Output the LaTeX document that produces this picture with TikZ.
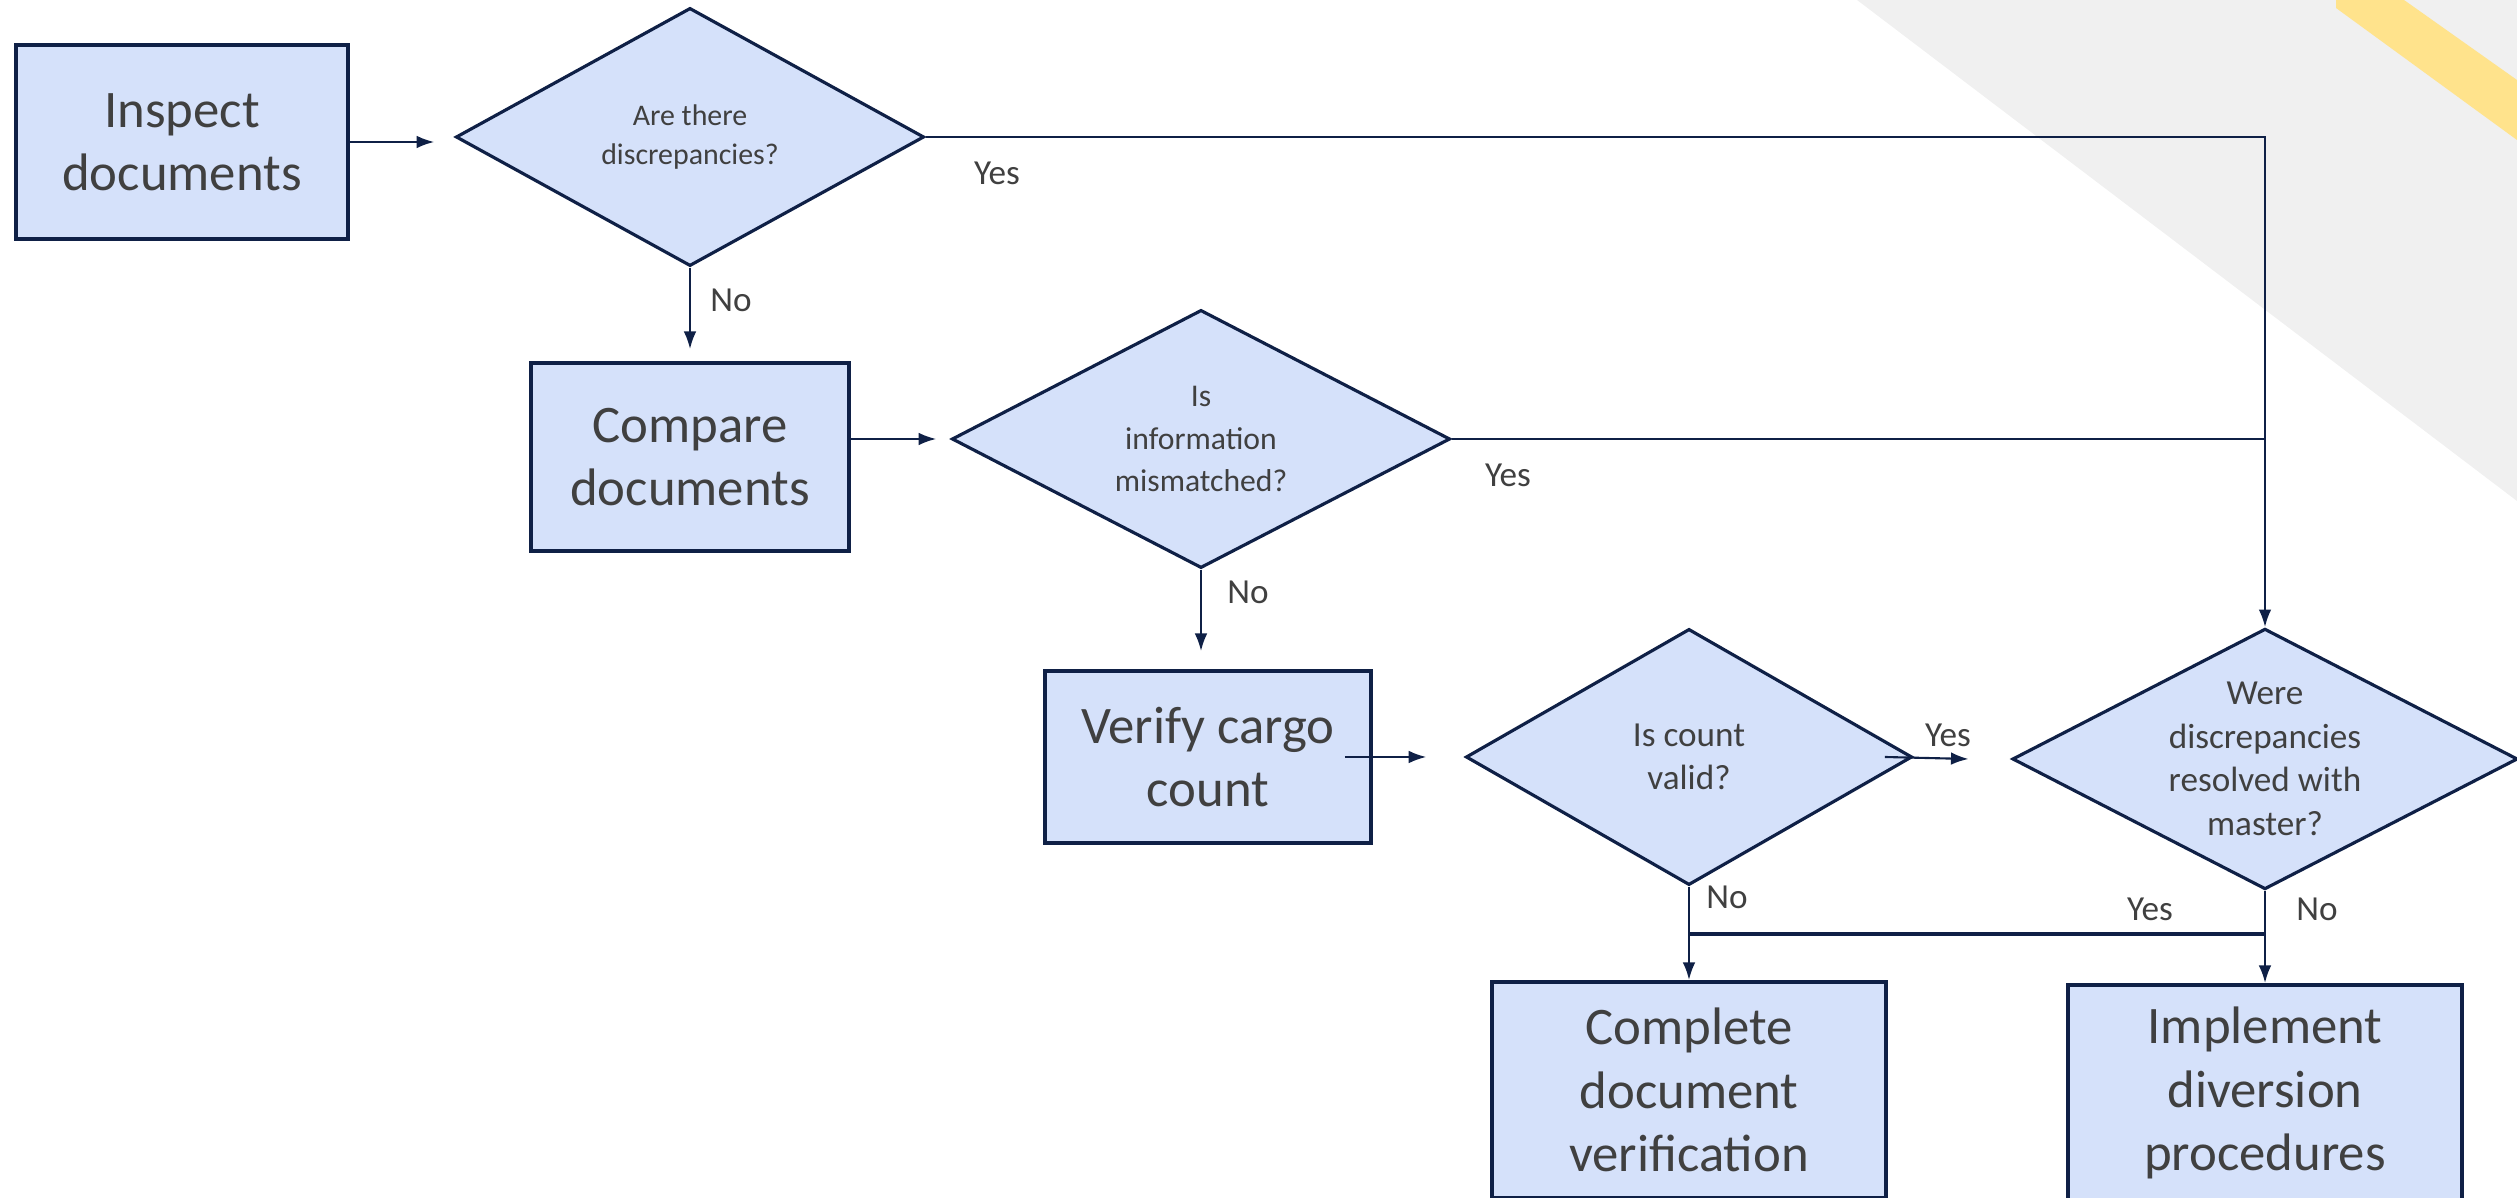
\documentclass[tikz,border=0pt]{standalone}
\usepackage{fontspec}
\setmainfont{Carlito}
\usetikzlibrary{arrows.meta,shapes.geometric,positioning}

\definecolor{navy}{RGB}{15,32,70}
\definecolor{boxblue}{RGB}{213,225,250}
\definecolor{textgrey}{RGB}{64,64,64}
\definecolor{bggrey}{RGB}{240,240,240}
\definecolor{bgyellow}{RGB}{255,227,140}

\tikzset{
  box/.style={rectangle, draw=navy, line width=1.1pt, fill=boxblue, text=textgrey,
    align=center, inner sep=0pt, font=\fontsize{15}{18}\selectfont},
  dec/.style={diamond, draw=navy, line width=0.9pt, fill=boxblue, text=textgrey,
    align=center, inner sep=0pt, aspect=1.8},
  lbl/.style={text=textgrey, inner sep=0pt, font=\fontsize{10}{12}\selectfont},
  link/.style={draw=navy, line width=0.6pt},
  flow/.style={link, -{Latex[length=5pt,width=3.6pt]}}
}

\begin{document}
\begin{tikzpicture}[x=0.01cm, y=-0.01cm]
\useasboundingbox (0,0) rectangle (2517,1198);

%% background
\fill[bggrey] (1857,0) -- (2517,0) -- (2517,501) -- cycle;
\fill[bgyellow] (2336,0) -- (2404,0) -- (2517,80) -- (2517,140) -- (2336,8) -- cycle;

%% steps
\node[box, minimum width=3.32cm, minimum height=1.94cm] (Box1) at (182,142) {Inspect\\documents};
\node[box, minimum width=3.18cm, minimum height=1.88cm] (Box2) at (690,457) {Compare\\documents};
\node[box, minimum width=3.26cm, minimum height=1.72cm] (Box3) at (1208,757) {Verify cargo\\count};
\node[box, minimum width=3.93cm, minimum height=2.16cm] (Box4) at (1689,1090) {Complete\\document\\verification};
\node[box, minimum width=3.93cm, minimum height=2.16cm] (Box5) at (2265,1093) {Implement\\diversion\\procedures};

%% decisions
\node[dec, minimum width=4.68cm, minimum height=2.58cm, font=\fontsize{8.5}{11}\selectfont]
  (Dec1) at (690,137) {Are there\\discrepancies?};
\node[dec, minimum width=4.98cm, minimum height=2.58cm, font=\fontsize{9}{12}\selectfont]
  (Dec2) at (1201,439) {Is\\information\\mismatched?};
\node[dec, minimum width=4.46cm, minimum height=2.56cm, font=\fontsize{10}{12.2}\selectfont]
  (Dec3) at (1689,757) {Is count\\valid?};
\node[dec, minimum width=5.05cm, minimum height=2.55cm, font=\fontsize{10}{12.4}\selectfont]
  (Dec4) at (2265,759) {Were\\discrepancies\\resolved with\\master?};

%% arrow ends
\coordinate (T1) at ([xshift=-5.7pt]Dec1.west);
\coordinate (T2) at ([xshift=-4pt]Dec2.west);
\coordinate (T3) at ([yshift=5.1pt]Box3.north);
\coordinate (J1) at (Dec4.south |- 0,934);

%% connectors
\draw[flow] (Box1.east) -- (Box1.east -| T1);
\draw[flow] (Dec1.south) -- ([yshift=3.4pt]Box2.north);
\draw[flow] (Box2.east |- T2) -- (T2);
\draw[flow] (Dec2.south) -- (Dec2.south |- T3);
\draw[flow] ([xshift=-8pt]Box3.east) -- ([xshift=-10.8pt]Dec3.west);
\draw[flow] ([xshift=-8.2pt]Dec3.east) -- ([xshift=-12pt]Dec4.west);
\draw[flow] (Dec1.east) -| (Dec4.north);
\draw[link] (Dec2.east) -- (Dec2.east -| Dec4.north);
\draw[flow] (Dec3.south) -- (Box4.north);
\draw[flow] (Dec4.south) -- (Box5.north);
\draw[link, line width=0.9pt] (J1) -- (J1 -| Dec3.south);

%% labels
\node[lbl] (Yes1) at (997,173) {Yes};
\node[lbl] (No1) at (731,300) {No};
\node[lbl] (Yes2) at (1508,475) {Yes};
\node[lbl] (No2) at (1248,592) {No};
\node[lbl] (Yes3) at (1948,735) {Yes};
\node[lbl] (No3) at (1727,897) {No};
\node[lbl] (Yes4) at (2150,909) {Yes};
\node[lbl] (No4) at (2317,909) {No};

\end{tikzpicture}
\end{document}
